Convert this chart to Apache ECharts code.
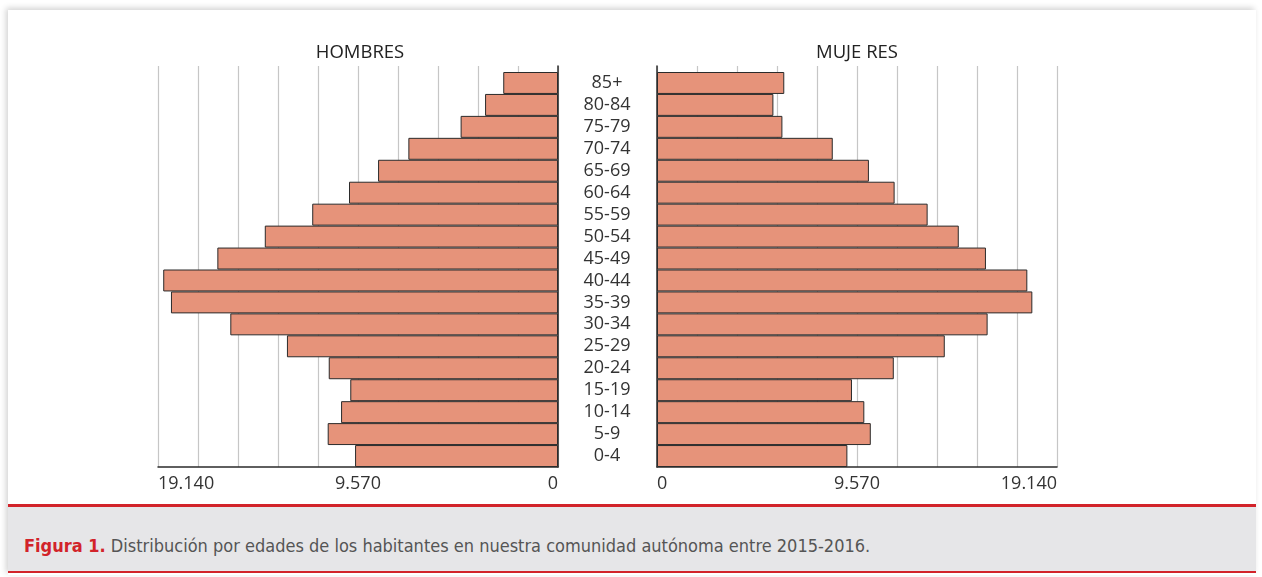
<!DOCTYPE html>
<html>
<head>
<meta charset="utf-8">
<script src="https://cdn.jsdelivr.net/npm/echarts@6/dist/echarts.min.js"></script>
<style>
  html, body { margin: 0; padding: 0; background: #fff; }
  .card {
    position: absolute;
    left: 8px; top: 10px;
    width: 1248px; height: 565px;
    background: #fff;
    box-shadow: -2px -2px 6px rgba(0,0,0,0.18);
  }
  .caption {
    position: absolute;
    left: 8px; top: 504px;
    width: 1248px; height: 69px;
    background: #e6e6e8;
    border-top: 3px solid #d2232a;
    border-bottom: 2px solid #d2232a;
    box-sizing: border-box;
  }
  .caption p {
    margin: 0;
    position: absolute;
    left: 16px; top: 28px;
    font-family: "Liberation Sans Narrow", "DejaVu Sans Condensed", sans-serif;
    font-size: 18px;
    color: #555;
    white-space: nowrap;
  }
  .caption b { color: #d2232a; }
  #chart { position: absolute; left: 0; top: 0; width: 1262px; height: 577px; }
</style>
</head>
<body>
<div class="card"></div>
<div class="caption"><p><b>Figura 1.</b> Distribución por edades de los habitantes en nuestra comunidad autónoma entre 2015-2016.</p></div>
<div id="chart"></div>
<script>
// age groups, bottom to top
const ageGroups = ['0-4', '5-9', '10-14', '15-19', '20-24', '25-29', '30-34', '35-39', '40-44',
  '45-49', '50-54', '55-59', '60-64', '65-69', '70-74', '75-79', '80-84', '85+']
const hombres = [9710, 11020, 10380, 9940, 10970, 12970, 15680, 18520, 18890,
  16300, 14030, 11760, 10000, 8610, 7160, 4660, 3490, 2620]
const mujeres = [9110, 10230, 9920, 9330, 11330, 13770, 15820, 17960, 17720,
  15740, 14440, 12950, 11370, 10140, 8410, 6000, 5570, 6090]
const tickLabels = [0, 9570, 19140]
const axisMax = 19140

const barColor = '#e6937a'
const gridColor = '#c6c6c6'
const darkColor = '#2b2b2b'
const font = '"Open Sans", sans-serif'

function fmt (v) {
  for (let t of tickLabels) {
    if (Math.abs(v - t) < 1) {
      return String(t).replace(/\B(?=(\d{3})+(?!\d))/g, '.')
    }
  }
  return ''
}

// axis with the grid lines and labels
function lineAxis (gridIndex, inverse) {
  return {
    type: 'value',
    gridIndex: gridIndex,
    inverse: inverse,
    min: 0,
    max: axisMax,
    interval: axisMax / 10,
    splitLine: { show: true, lineStyle: { color: gridColor, width: 1.2 } },
    axisLine: { show: true, onZero: false, lineStyle: { color: darkColor, width: 1.5 } },
    axisTick: { show: false },
    axisLabel: {
      formatter: fmt,
      showMinLabel: true,
      showMaxLabel: true,
      alignMinLabel: inverse ? 'right' : 'left',
      alignMaxLabel: inverse ? 'left' : 'right',
      margin: 8,
      color: '#333',
      fontSize: 18,
      fontFamily: font
    }
  }
}

// hidden axis for the bars
function barAxis (gridIndex, inverse) {
  return {
    type: 'value',
    gridIndex: gridIndex,
    inverse: inverse,
    min: 0,
    max: axisMax,
    show: false
  }
}

let myChart = echarts.init(document.getElementById('chart'))
let option = {
  animation: false,
  grid: [
    { left: 158, width: 400, top: 66, height: 401 },
    { left: 158, width: 400, top: 72, height: 395 },
    { left: 657, width: 400, top: 66, height: 401 },
    { left: 657, width: 400, top: 72, height: 395 }
  ],
  xAxis: [
    lineAxis(0, true),
    barAxis(1, true),
    lineAxis(2, false),
    barAxis(3, false)
  ],
  yAxis: [{
    type: 'value',
    gridIndex: 0,
    position: 'right',
    min: 0,
    max: 1,
    splitLine: { show: false },
    axisTick: { show: false },
    axisLabel: { show: false },
    axisLine: { show: true, onZero: false, lineStyle: { color: darkColor, width: 1.5 } }
  }, {
    type: 'category',
    gridIndex: 1,
    position: 'right',
    data: ageGroups,
    axisLine: { show: false },
    axisTick: { show: false },
    axisLabel: {
      interval: 0,
      margin: 49,
      align: 'center',
      padding: [5, 0, 0, 0],
      color: '#333',
      fontSize: 18,
      fontFamily: font
    }
  }, {
    type: 'value',
    gridIndex: 2,
    position: 'left',
    min: 0,
    max: 1,
    splitLine: { show: false },
    axisTick: { show: false },
    axisLabel: { show: false },
    axisLine: { show: true, onZero: false, lineStyle: { color: darkColor, width: 1.5 } }
  }, {
    type: 'category',
    gridIndex: 3,
    data: ageGroups,
    axisLine: { show: false },
    axisTick: { show: false },
    axisLabel: { show: false }
  }],
  graphic: [{
    type: 'text',
    x: 360,
    y: 53,
    style: { text: 'HOMBRES', align: 'center', verticalAlign: 'middle', font: '18.5px ' + font, fill: '#222' }
  }, {
    type: 'text',
    x: 857,
    y: 53,
    style: { text: 'MUJE RES', align: 'center', verticalAlign: 'middle', font: '18.5px ' + font, fill: '#222' }
  }],
  series: [{
    name: 'Hombres',
    type: 'bar',
    xAxisIndex: 1,
    yAxisIndex: 1,
    data: hombres,
    barCategoryGap: '0%',
    itemStyle: { color: barColor, borderColor: darkColor, borderWidth: 1 }
  }, {
    name: 'Mujeres',
    type: 'bar',
    xAxisIndex: 3,
    yAxisIndex: 3,
    data: mujeres,
    barCategoryGap: '0%',
    itemStyle: { color: barColor, borderColor: darkColor, borderWidth: 1 }
  }]
}
myChart.setOption(option)
</script>
</body>
</html>
